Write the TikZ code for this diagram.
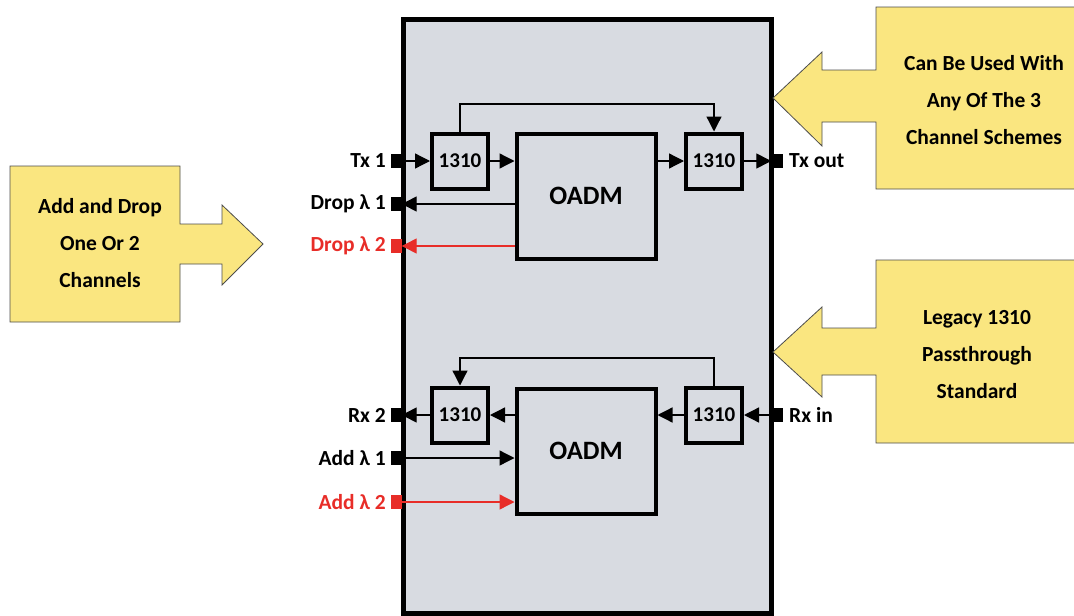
\documentclass[tikz,border=0pt]{standalone}
\usepackage{fontspec}
\setmainfont{Carlito}
\usetikzlibrary{arrows.meta}
\definecolor{boxgray}{RGB}{216,219,225}
\definecolor{calloutyellow}{RGB}{250,230,128}
\definecolor{sigred}{RGB}{232,45,40}
\begin{document}
\begin{tikzpicture}[x=1pt,y=-1pt,
  blk/.style={draw=black,line width=4pt,fill=boxgray,inner sep=0pt},
  small/.style={blk,minimum width=56pt,minimum height=55pt,font=\bfseries\fontsize{21}{21}\selectfont},
  oadm/.style={blk,minimum width=139pt,minimum height=125pt,font=\bfseries\fontsize{26.5}{26.5}\selectfont},
  port/.style={fill=black,minimum width=11pt,minimum height=14pt,inner sep=0pt},
  rport/.style={port,fill=sigred},
  lbl/.style={font=\bfseries\fontsize{21.5}{21.5}\selectfont,inner sep=0pt},
  arr/.style={line width=1.3pt,-{Triangle[length=15pt,width=15pt]}},
  rarr/.style={arr,draw=sigred,-{Triangle[length=15pt,width=15pt,fill=sigred]}},
  callout/.style={draw=black!70,line width=0.8pt,fill=calloutyellow},
  ctext/.style={font=\bfseries\fontsize{21.5}{37}\selectfont,align=center}
]
\useasboundingbox (0,0) rectangle (1074,616);
% main enclosure
\draw[line width=5pt,fill=boxgray] (403,19) rectangle (771,613);

% ---- top section ----
\node[small] (l1) at (460,161) {1310};
\node[oadm] (o1) at (586,196) {OADM};
\node[small] (r1) at (714,161) {1310};
\node[port] (ptx1) at (396,161) {};
\node[port] (ptxo) at (777,161) {};
\node[port] (pd1) at (396,204) {};
\node[rport] (pd2) at (396,246) {};
\node[lbl,anchor=east] at (386,161) {Tx 1};
\node[lbl,anchor=west] at (789,161) {Tx out};
\node[lbl,anchor=east] at (386,204) {Drop λ 1};
\node[lbl,anchor=east,text=sigred] at (386,246) {Drop λ 2};
\coordinate (fb1) at (587,104);
\draw[arr] (ptx1) -- (l1);
\draw[arr] (l1) -- (l1 -| o1.west);
\draw[arr] (o1.east |- r1) -- (r1);
\draw[arr] (r1) -- (ptxo);
\draw[arr] (l1.north) |- (fb1) -| (r1.north);
\draw[arr] (o1.west |- pd1) -- (pd1);
\draw[rarr] (o1.west |- pd2) -- (pd2);

% ---- bottom section ----
\node[small] (l2) at (460,415) {1310};
\node[oadm] (o2) at (586,451) {OADM};
\node[small] (r2) at (714,415) {1310};
\node[port] (prx2) at (396,415) {};
\node[port] (prxi) at (777,415) {};
\node[port] (pa1) at (396,458) {};
\node[rport] (pa2) at (396,502) {};
\node[lbl,anchor=east] at (386,415) {Rx 2};
\node[lbl,anchor=west] at (789,415) {Rx in};
\node[lbl,anchor=east] at (386,458) {Add λ 1};
\node[lbl,anchor=east,text=sigred] at (386,502) {Add λ 2};
\coordinate (fb2) at (587,358);
\draw[arr] (prxi) -- (r2);
\draw[arr] (r2) -- (r2 -| o2.east);
\draw[arr] (o2.west |- l2) -- (l2);
\draw[arr] (l2) -- (prx2);
\draw[arr] (r2.north) |- (fb2) -| (l2.north);
\draw[arr] (pa1) -- (pa1 -| o2.west);
\draw[rarr] (pa2) -- (pa2 -| o2.west);

% ---- callouts ----
\draw[callout] (10,166) -- (180,166) -- (180,224) -- (222,224) -- (222,205) -- (263,244)
  -- (222,285) -- (222,264) -- (180,264) -- (180,322) -- (10,322) -- cycle;
\node[ctext] (c1) at (100,243) {Add and Drop\\One Or 2\\Channels};

\draw[callout] (1080,7) -- (876,7) -- (876,70) -- (822,70) -- (822,52) -- (773,98)
  -- (822,146) -- (822,122) -- (876,122) -- (876,189) -- (1080,189);
\node[ctext] (c2) at (984,100) {Can Be Used With\\Any Of The 3\\Channel Schemes};

\draw[callout] (1080,260) -- (876,260) -- (876,328) -- (822,328) -- (822,307) -- (773,352)
  -- (822,397) -- (822,375) -- (876,375) -- (876,443) -- (1080,443);
\node[ctext] (c3) at (977,355) {Legacy 1310\\Passthrough\\Standard};
\end{tikzpicture}
\end{document}
